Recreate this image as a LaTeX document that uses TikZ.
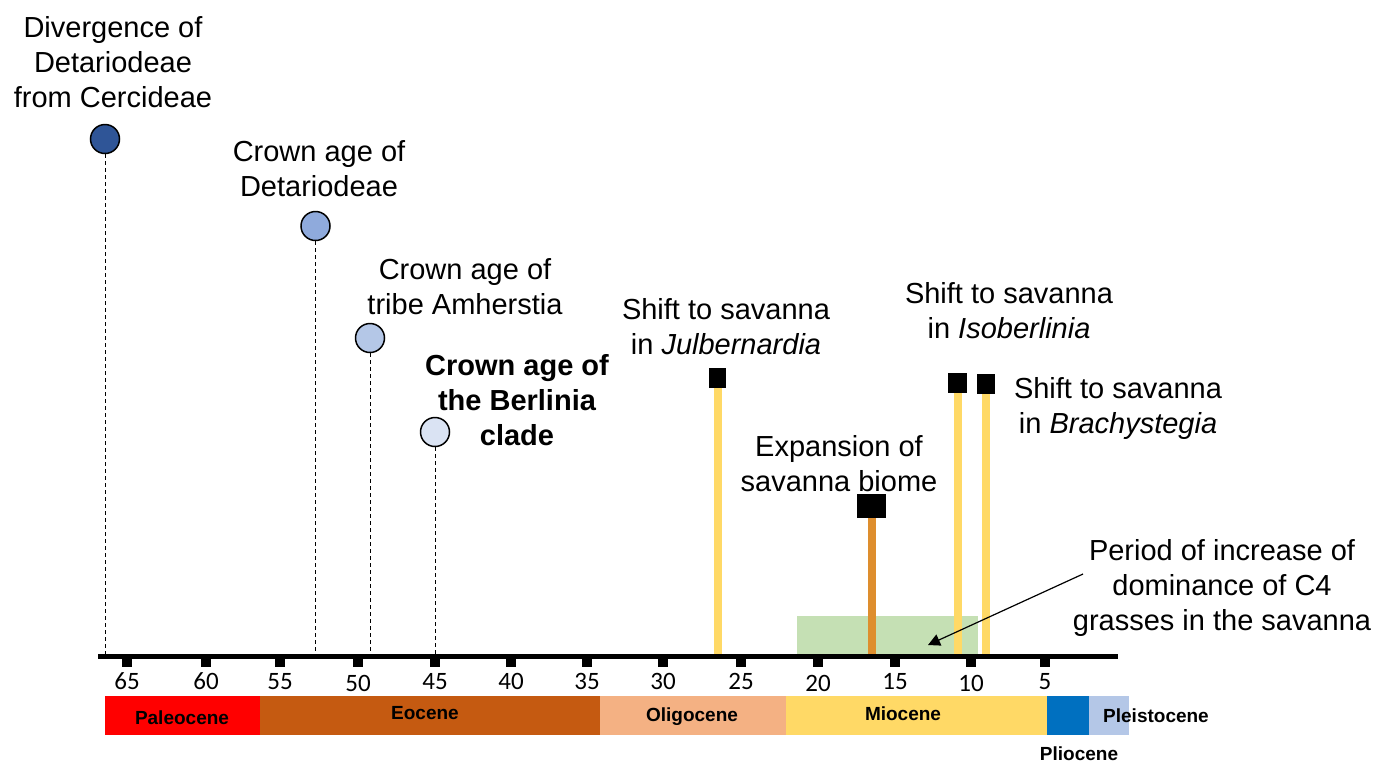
\documentclass[tikz,border=0pt]{standalone}
\usepackage{fontspec}
\setmainfont{Liberation Sans}
\newfontfamily\numfont{Carlito}
\usetikzlibrary{arrows.meta}
\definecolor{cDiv}{HTML}{2F5597}
\definecolor{cDet}{HTML}{8FAADC}
\definecolor{cAmh}{HTML}{B4C7E7}
\definecolor{cBer}{HTML}{DAE3F3}
\definecolor{cPal}{HTML}{FF0000}
\definecolor{cEoc}{HTML}{C55A11}
\definecolor{cOli}{HTML}{F4B183}
\definecolor{cMio}{HTML}{FFD966}
\definecolor{cPli}{HTML}{0070C0}
\definecolor{cPle}{HTML}{B4C7E7}
\definecolor{cYel}{HTML}{FFD966}
\definecolor{cOra}{HTML}{DE8E2E}
\definecolor{cGrn}{HTML}{C5E0B4}
\tikzset{
  lab/.style={align=center, font=\fontsize{14.5}{17.5}\selectfont, inner sep=0pt, anchor=base},
  num/.style={font=\numfont\fontsize{12.5}{15}\selectfont, inner sep=0pt, anchor=base},
  eplab/.style={font=\bfseries\fontsize{9.5}{11}\selectfont, inner sep=0pt, anchor=base},
  dot/.style={circle, draw=black, line width=0.75pt, minimum size=14.5pt, inner sep=0pt},
  sq/.style={fill=black, draw=none, inner sep=0pt},
  drop/.style={draw=black, line width=0.5pt, dash pattern=on 2pt off 1.5pt},
  ybar/.style={draw=cYel, line width=4pt},
  obar/.style={draw=cOra, line width=4pt},
  tickmark/.style={fill=black, draw=none, inner sep=0pt, minimum width=5pt, minimum height=5pt, anchor=north},
}
\begin{document}
\begin{tikzpicture}[x=0.5pt, y=-0.5pt]
\useasboundingbox (0,0) rectangle (1376,762);

% axis coordinates
\coordinate (axL) at (98,656);
\coordinate (axR) at (1118,656);

% green period box
\node[fill=cGrn, draw=none, minimum width=90.5pt, minimum height=19.5pt, inner sep=0pt] (grn) at (887.5,635) {};

% circles
\node[dot, fill=cDiv] (cdiv) at (105,139) {};
\node[dot, fill=cDet] (cdet) at (315.5,226) {};
\node[dot, fill=cAmh] (camh) at (370,338) {};
\node[dot, fill=cBer] (cber) at (435,432) {};

% dashed drops
\draw[drop] (cdiv.south) -- (cdiv.south |- axL);
\draw[drop] (cdet.south) -- (cdet.south |- axL);
\draw[drop] (camh.south) -- (camh.south |- axL);
\draw[drop] (cber.south) -- (cber.south |- axL);

% squares
\node[sq, minimum width=8.5pt, minimum height=10pt] (sjul) at (717.5,378) {};
\node[sq, minimum width=9.5pt, minimum height=10pt] (siso) at (957.5,383) {};
\node[sq, minimum width=9pt, minimum height=10pt] (sbra) at (986,384) {};
\node[sq, minimum width=14.5pt, minimum height=12pt] (sexp) at (871.5,506) {};

% bars
\draw[ybar] (sjul.south) -- (sjul.south |- axL);
\draw[ybar] (siso.south) -- (siso.south |- axL);
\draw[ybar] (sbra.south) -- (sbra.south |- axL);
\draw[obar] (sexp.south) -- (sexp.south |- axL);

% arrow
\coordinate (arrS) at (1083,574);
\coordinate (arrE) at (928,645);
\draw[line width=0.6pt, -{Triangle[length=6pt, width=6pt]}] (arrS) -- (arrE);

% axis
\draw[line width=2.5pt] (axL) -- (axR);

% ticks and numbers
\foreach \t/\xx/\dy in {65/127/0, 60/206/0, 55/280/0, 50/358/2, 45/435/0, 40/511/0, 35/587/0, 30/663/0, 25/741/0, 20/818/2, 15/895/0, 10/971/2, 5/1045/0}{
  \node[tickmark] (tk\t) at (\xx,657) {};
  \node[num] (n\t) at (\xx,689+\dy) {\t};
}

% epoch bars
\fill[cPal] (105,696) rectangle (260,735);
\fill[cEoc] (260,696) rectangle (600,735);
\fill[cOli] (600,696) rectangle (786,735);
\fill[cMio] (786,696) rectangle (1047,735);
\fill[cPli] (1047,696) rectangle (1089,735);
\fill[cPle] (1089,696) rectangle (1129,735);

\node[eplab] (lpal) at (182,724) {Paleocene};
\node[eplab] (leoc) at (425,719) {Eocene};
\node[eplab] (loli) at (692,721) {Oligocene};
\node[eplab] (lmio) at (903,720) {Miocene};
\node[eplab] (lple) at (1156,722) {Pleistocene};
\node[eplab] (lpli) at (1079,760) {Pliocene};

% labels (anchor base = baseline of last line)
\node[lab] (tdiv) at (113,107) {Divergence of\\Detariodeae\\from Cercideae};
\node[lab] (tdet) at (319,196) {Crown age of\\Detariodeae};
\node[lab] (tamh) at (465,314) {Crown age of\\tribe Amherstia};
\node[lab, font=\bfseries\fontsize{14.5}{17.5}\selectfont] (tber) at (517,445) {Crown age of\\the Berlinia\\clade};
\node[lab] (tjul) at (726,354) {Shift to savanna\\in \textit{Julbernardia}};
\node[lab] (tiso) at (1009,338) {Shift to savanna\\in \textit{Isoberlinia}};
\node[lab] (tbra) at (1118,433) {Shift to savanna\\in \textit{Brachystegia}};
\node[lab] (texp) at (839,491) {Expansion of\\savanna biome};
\node[lab] (tper) at (1222,630) {Period of increase of\\dominance of C4\\grasses in the savanna};
\end{tikzpicture}
\end{document}
